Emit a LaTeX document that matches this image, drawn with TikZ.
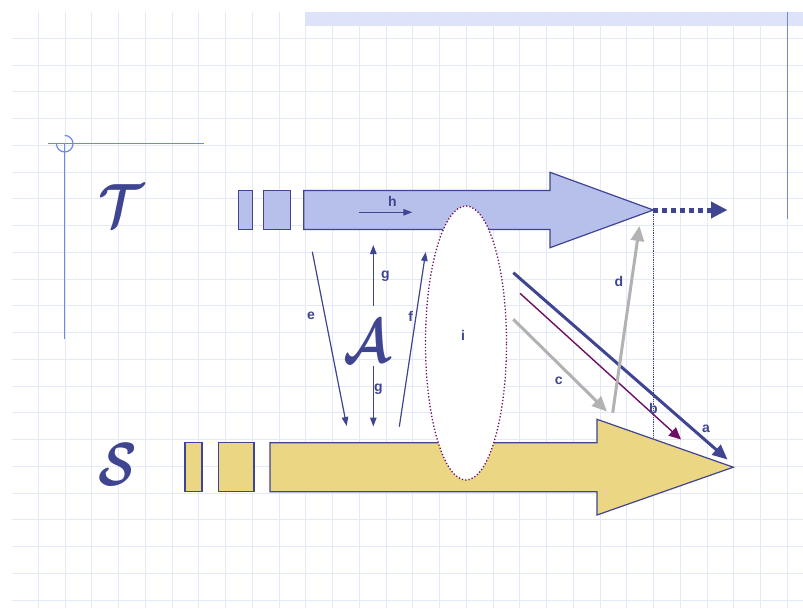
\RequirePackage{fix-cm}
\documentclass[tikz,border=0pt]{standalone}
\usepackage{amsmath,amssymb}
\usepackage{fontspec}
\setsansfont{Liberation Sans}
\usetikzlibrary{arrows.meta,shapes.geometric}
\definecolor{gridc}{RGB}{228,233,250}
\definecolor{barc}{RGB}{221,228,250}
\definecolor{decoc}{RGB}{110,135,235}
\definecolor{navy}{RGB}{63,69,144}
\definecolor{tfill}{RGB}{183,192,234}
\definecolor{sfill}{RGB}{235,214,131}
\definecolor{plum}{RGB}{110,15,100}
\definecolor{greyc}{RGB}{178,178,178}
\newcommand{\calsym}[1]{\scalebox{0.82}[1]{$\boldsymbol{\mathcal{#1}}$}}
\begin{document}
\begin{tikzpicture}[x=1pt,y=-1pt,
  >={Triangle[length=9pt,width=6.5pt]},
  gridln/.style={draw=gridc,line width=1pt},
  band/.style={draw=navy,line width=1.2pt,line join=miter},
  thin/.style={->,draw=navy,line width=1.2pt},
  heavy/.style={line width=3pt,>={Triangle[length=15pt,width=13pt]}},
  lbl/.style={text=navy,inner sep=0pt,font=\sffamily\bfseries\fontsize{14}{14}\selectfont},
  cal/.style={text=navy,inner sep=0pt,font=\fontsize{61}{61}\selectfont}]
\useasboundingbox (0,0) rectangle (803,608);
\fill[white] (0,0) rectangle (803,608);
\foreach \i in {0,...,28}
  \draw[gridln] (38.3+26.75*\i,11.7) -- (38.3+26.75*\i,608);
\foreach \i in {0,...,21}
  \draw[gridln] (11.7,38.3+26.75*\i) -- (803,38.3+26.75*\i);
\fill[barc] (305,11.7) rectangle (803,25.7);
\draw[decoc,line width=1.2pt] (787.7,11.7) -- (787.7,219);
\draw[decoc,line width=1.2pt] (48,143.7) -- (204,143.7);
\draw[decoc,line width=1.2pt] (64.7,143.7) -- (64.7,339);
\draw[decoc,line width=1.2pt] (56.4,143.7) arc[start angle=180,end angle=-90,radius=8.3];

% T band
\draw[band,fill=tfill] (238.3,190.5) rectangle (252.3,229.5);
\draw[band,fill=tfill] (263.3,190.5) rectangle (290.7,229.5);
\draw[band,fill=tfill] (303.7,190.5) -- (550,190.5) -- (550,172.3) -- (653.3,210)
  -- (550,247.7) -- (550,229.5) -- (303.7,229.5) -- cycle;
\coordinate (ttip) at (653.3,210);
\coordinate (tend) at (727,210);
\coordinate (tfoot) at (653.3,438);
\draw[navy,line width=5pt,dash pattern=on 5pt off 4pt] (ttip) -- (711,210);
\draw[-{Triangle[length=16pt,width=17pt]},navy,line width=0.1pt] (711,210) -- (tend);
\draw[navy,line width=0.8pt,densely dotted] (ttip) -- (tfoot);

% S band
\draw[band,fill=sfill] (185,442.7) rectangle (202,491.7);
\draw[band,fill=sfill] (218.3,442.7) rectangle (254,491.7);
\draw[band,fill=sfill] (270,442.7) -- (597,442.7) -- (597,419.3) -- (733.3,467.2)
  -- (597,515) -- (597,491.7) -- (270,491.7) -- cycle;

\node[ellipse,draw=plum,dotted,line width=1.3pt,fill=white,minimum width=81pt,
  minimum height=274pt,inner sep=0pt] (lens) at (466,343) {};
\node[lbl] (li) at (463,335) {i};

\node[cal] (T) at (121,206) {\calsym{T}};
\node[cal] (S) at (118,465) {\calsym{S}};
\node[cal] (A) at (367,342) {\calsym{A}};

\coordinate (h0) at (359,212.3);   \coordinate (h1) at (412.3,212.3);
\coordinate (e0) at (312.3,251.7); \coordinate (e1) at (346.7,426);
\coordinate (gu0) at (373.3,306);  \coordinate (gu1) at (373.3,245);
\coordinate (gd0) at (373.3,365.7); \coordinate (gd1) at (373.3,426.5);
\coordinate (f0) at (399.3,426.7); \coordinate (f1) at (425.7,252);
\draw[thin] (h0) -- (h1);
\draw[thin] (e0) -- (e1);
\draw[thin] (gu0) -- (gu1);
\draw[thin] (gd0) -- (gd1);
\draw[thin] (f0) -- (f1);

\coordinate (a0) at (513.3,272.7); \coordinate (a1) at (727.5,459.5);
\coordinate (b0) at (520,293.3);   \coordinate (b1) at (681,439.5);
\coordinate (c0) at (513.3,319.3); \coordinate (c1) at (607,411.5);
\coordinate (d0) at (612.7,412.7); \coordinate (d1) at (639.5,226);
\draw[->,heavy,navy] (a0) -- (a1);
\draw[->,plum,line width=1.4pt,>={Triangle[length=12pt,width=11pt]}] (b0) -- (b1);
\draw[->,heavy,greyc] (c0) -- (c1);
\draw[->,heavy,greyc] (d0) -- (d1);

\node[lbl] (lh) at (392.3,201) {h};
\node[lbl] (le) at (311,316) {e};
\node[lbl] (lg1) at (385.5,276) {g};
\node[lbl] (lg2) at (378.3,389.3) {g};
\node[lbl] (lf) at (410.7,316) {f};
\node[lbl] (la) at (706,428.3) {a};
\node[lbl] (lb) at (653.3,408.3) {b};
\node[lbl] (lc) at (558.7,381) {c};
\node[lbl] (ld) at (619,281.7) {d};
\end{tikzpicture}
\end{document}
